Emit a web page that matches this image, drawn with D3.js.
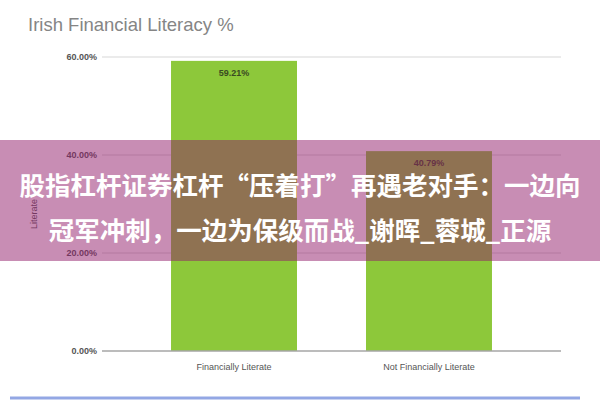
<!DOCTYPE html>
<html><head><meta charset="utf-8">
<script src="https://cdn.jsdelivr.net/npm/d3@7"></script>
<style>html,body{margin:0;padding:0;background:#fff;}svg{display:block;}</style>
</head><body>
<svg id="c" width="600" height="400"></svg>
<script>
const categories = ["Financially Literate", "Not Financially Literate"];
const values = [59.21, 40.79];
const yTicks = [0, 20, 40, 60];
const title = "Irish Financial Literacy %";
const yAxisLabel = "Literate";
const bannerLines = ["股指杠杆证券杠杆“压着打”再遇老对手：一边向", "冠军冲刺，一边为保级而战_谢晖_蓉城_正源"];

const svg = d3.select("#c");
const x = d3.scaleBand().domain(categories).range([102, 561]).padding(0.354);
const y = d3.scaleLinear().domain([0, 60]).range([351, 57]);

svg.append("text").attr("x", 28).attr("y", 31).text(title)
  .attr("font-family", "Liberation Sans, Arial, sans-serif").attr("font-size", 18.5).attr("fill", "#858585");

// grid
svg.append("g").selectAll("line").data(yTicks.filter(d => d > 0)).join("line")
  .attr("x1", 102).attr("x2", 561).attr("y1", d => y(d)).attr("y2", d => y(d))
  .attr("stroke", "#e4e4e4").attr("stroke-width", 1.5);

// y tick labels
svg.append("g").selectAll("text").data(yTicks).join("text")
  .attr("x", 97).attr("y", d => y(d) + 3).attr("text-anchor", "end")
  .attr("font-family", "Liberation Sans Narrow, Liberation Sans, Arial, sans-serif").attr("font-size", 9)
  .attr("font-weight", "bold").attr("fill", "#555").text(d => d3.format(".2f")(d) + "%");

// bars
svg.append("g").selectAll("rect").data(values).join("rect")
  .attr("x", (d, i) => x(categories[i])).attr("width", x.bandwidth())
  .attr("y", d => y(d)).attr("height", d => y(0) - y(d)).attr("fill", "#8dc83a");

// value labels
svg.append("g").selectAll("text").data(values).join("text")
  .attr("x", (d, i) => x(categories[i]) + x.bandwidth() / 2).attr("y", d => y(d) + 15)
  .attr("text-anchor", "middle").attr("font-family", "Liberation Sans Narrow, Liberation Sans, Arial, sans-serif")
  .attr("font-size", 9).attr("font-weight", "bold").attr("fill", "#3a4a22").text(d => d3.format(".2f")(d) + "%");

// baseline
svg.append("line").attr("x1", 102).attr("x2", 561).attr("y1", y(0)).attr("y2", y(0))
  .attr("stroke", "#a6a6a6").attr("stroke-width", 1.5);

// x labels
svg.append("g").selectAll("text").data(categories).join("text")
  .attr("x", d => x(d) + x.bandwidth() / 2).attr("y", 370).attr("text-anchor", "middle")
  .attr("font-family", "Liberation Sans Narrow, Liberation Sans, Arial, sans-serif").attr("font-size", 9)
  .attr("fill", "#555").text(d => d);

// y axis label
svg.append("text").attr("transform", "translate(37,214) rotate(-90)").attr("text-anchor", "middle")
  .attr("font-family", "Liberation Sans, Arial, sans-serif").attr("font-size", 9).attr("fill", "#555").text(yAxisLabel);

// bottom blue rule
svg.append("line").attr("x1", 10).attr("x2", 580).attr("y1", 398).attr("y2", 398)
  .attr("stroke", "#93a7e4").attr("stroke-width", 3);

// overlay banner
svg.append("rect").attr("x", 0).attr("y", 140).attr("width", 600).attr("height", 121)
  .attr("fill", "rgb(146,28,106)").attr("fill-opacity", 0.5);

svg.append("g").selectAll("text").data(bannerLines).join("text")
  .attr("x", 300).attr("y", (d, i) => 195 + i * 45).attr("text-anchor", "middle")
  .attr("font-family", "Noto Sans CJK SC, sans-serif").attr("font-weight", "bold")
  .attr("font-size", 25.5).attr("fill", "#fff").text(d => d);
</script>
</body></html>
